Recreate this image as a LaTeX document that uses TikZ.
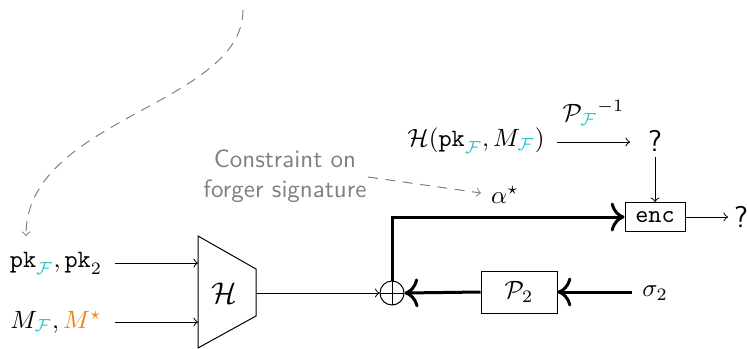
\documentclass[tikz,border=0pt]{standalone}
\usepackage{amsmath,amssymb}
\usetikzlibrary{calc,arrows.meta}
\definecolor{fcyan}{RGB}{40,195,200}
\definecolor{morange}{RGB}{240,130,10}
\newcommand{\cF}{\textcolor{fcyan}{\mathcal{F}}}
\begin{document}
\begin{tikzpicture}[x=0.4pt,y=-0.4pt,>=to,
  thinarr/.style={->,line width=0.4pt},
  thickarr/.style={-{To[scale=1.3]},line width=1.2pt},
  dasharr/.style={->,gray,dash pattern=on 4pt off 3pt,line width=0.4pt},
  boxn/.style={draw,line width=0.4pt,inner sep=0pt},
  txt/.style={inner sep=0pt}]
\useasboundingbox (0,0) rectangle (747,348);
% inputs
\node[txt] (inpk) at (56,263) {$\mathtt{pk}_{\cF},\mathtt{pk}_2$};
\node[txt] (inM) at (56,322) {$M_{\cF},\textcolor{morange}{M^\star}$};
% trapezoid H
\coordinate (Htl) at (198,236);
\coordinate (Hbl) at (198,348);
\coordinate (Htr) at (256,269);
\coordinate (Hbr) at (256,316);
\draw[line width=0.4pt] (Htl) -- (Htr) -- (Hbr) -- (Hbl) -- cycle;
\node[txt,font=\large] (H) at (224,293) {$\mathcal{H}$};
\coordinate (Hin1) at (198,263);
\coordinate (Hin2) at (198,322);
\coordinate (Hout) at (256,293);
\coordinate (pkS) at (115,263);
\coordinate (MS) at (115,322);
\draw[thinarr] (pkS) -- (Hin1);
\draw[thinarr] (MS) -- (Hin2);
% xor
\node[circle,draw,line width=0.4pt,minimum size=9.6pt,inner sep=0pt,
  path picture={\draw[line width=0.4pt] (path picture bounding box.north) -- (path picture bounding box.south)
  (path picture bounding box.west) -- (path picture bounding box.east);}] (xor) at (392,293) {};
\draw[thinarr] (Hout) -- (xor.west);
% enc
\node[boxn,minimum width=24pt,minimum height=11.6pt] (enc) at (655,217) {$\mathtt{enc}$};
\draw[thickarr] (xor.north) |- (enc.west);
\node[txt,font=\large] (qout) at (741,217) {\textsf{?}};
\coordinate (qoutE) at (728,217);
\draw[thinarr] (enc.east) -- (qoutE);
% top
\node[txt] (hq) at (476,141) {$\mathcal{H}(\mathtt{pk}_{\cF},M_{\cF})$};
\node[txt,font=\large] (qtop) at (655,141) {\textsf{?}};
\coordinate (hqS) at (557,142);
\coordinate (hqE) at (630,142);
\coordinate (qtopS) at (655,157);
\draw[thinarr] (hqS) -- node[above=3pt] {${\mathcal{P}_{\cF}}^{-1}$} (hqE);
\draw[thinarr] (qtopS) -- (enc.north);
% P2 and sigma
\node[boxn,minimum width=30.4pt,minimum height=16.8pt] (p2) at (519,292) {$\mathcal{P}_2$};
\node[txt] (sigma) at (655,293) {$\sigma_2$};
\coordinate (sigS) at (632,292);
\draw[thickarr] (sigS) -- (p2.east);
\draw[thickarr] (p2.west) -- (xor.east);
% alpha and constraint
\node[txt] (alpha) at (505,195) {$\alpha^\star$};
\node[txt,gray,align=center,font=\sffamily] (constr) at (285,176) {Constraint on\\forger signature};
\coordinate (cS) at (368,177);
\coordinate (aE) at (481,193);
\draw[dasharr] (cS) -- (aE);
% long dashed curve
\coordinate (top) at (243,10);
\coordinate (pkTop) at (26,236);
\draw[dasharr] (top) .. controls (243,105) and (26,118) .. (pkTop);
\end{tikzpicture}
\end{document}
